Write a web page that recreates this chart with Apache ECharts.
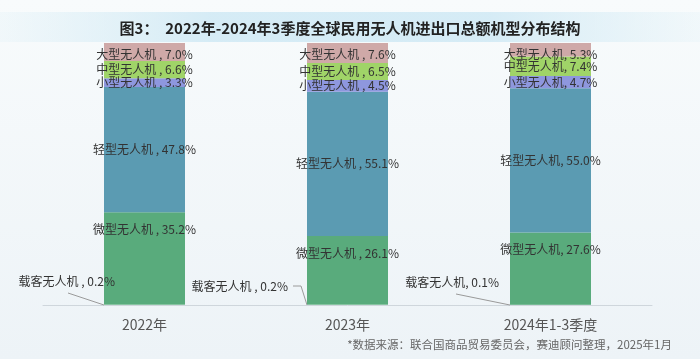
<!DOCTYPE html>
<html>
<head>
<meta charset="utf-8">
<script src="https://cdn.jsdelivr.net/npm/echarts@6/dist/echarts.min.js"></script>
<style>
html,body{margin:0;padding:0;background:#f3f7fa;}
#c{width:700px;height:359px;}
</style>
</head>
<body>
<div id="c"></div>
<script>
const titleText = '图3：  2022年-2024年3季度全球民用无人机进出口总额机型分布结构';
const sourceText = '*数据来源：联合国商品贸易委员会，赛迪顾问整理，2025年1月';
const categories = ['2022年', '2023年', '2024年1-3季度'];
const seriesNames = ['载客无人机', '微型无人机', '轻型无人机', '小型无人机', '中型无人机', '大型无人机'];
const passenger = [0.2, 0.2, 0.1];
const micro = [35.2, 26.1, 27.6];
const light = [47.8, 55.1, 55.0];
const small = [3.3, 4.5, 4.7];
const medium = [6.6, 6.5, 7.4];
const large = [7.0, 7.6, 5.3];
const labelSeparators = [' , ', ' , ', ', '];

const seriesValues = [passenger, micro, light, small, medium, large];
const colors = ['#7fbf95', '#59ab7c', '#5b9bb2', '#8e97de', '#a0d468', '#cfa9a8'];
const FONT = '"Noto Sans CJK SC", "Noto Sans", sans-serif';
const BAR_W = 81;

function fmt(p) {
  return p.seriesName + labelSeparators[p.dataIndex] + p.value.toFixed(1) + '%';
}

// label offsets for the tiny passenger segment (layout only)
const passengerOffsets = [[16, -23], [-14, -18], [-6, -22]];
// leader-line bends relative to the bar's bottom-left corner (layout only)
const leaderBends = [[[-36, -12]], [[-14, -19], [-6, -19]], [[-54, -11]]];

const labelPos = ['left', 'insideTop', 'inside', 'inside', 'inside', 'insideTop'];
const labelDist = [5, 11, 5, 5, 5, 5];

const series = seriesNames.map((name, i) => {
  const s = {
    name: name,
    type: 'bar',
    stack: 'total',
    barWidth: BAR_W,
    data: seriesValues[i],
    itemStyle: { color: colors[i] },
    label: {
      show: true,
      position: labelPos[i],
      distance: labelDist[i],
      formatter: fmt,
      color: '#333',
      fontSize: 12,
      fontFamily: FONT
    },
    emphasis: { disabled: true }
  };
  if (i === 0) {
    s.labelLayout = function (params) {
      const o = passengerOffsets[params.dataIndex];
      return { dx: o[0], dy: o[1] };
    };
  }
  return s;
});

series.push({
  type: 'custom',
  name: 'leader',
  silent: true,
  z: 5,
  data: passenger.map((v, i) => [i, v]),
  renderItem: function (params, api) {
    const idx = api.value(0);
    const base = api.coord([idx, 0]);
    const bx = base[0] - BAR_W / 2;
    const by = base[1];
    const pts = leaderBends[idx].map(p => [bx + p[0], by + p[1]]);
    pts.push([bx, by]);
    return {
      type: 'polyline',
      shape: { points: pts },
      style: { stroke: '#9a9a9a', lineWidth: 1, fill: null }
    };
  }
});

const chart = echarts.init(document.getElementById('c'), null, { renderer: 'canvas' });
chart.setOption({
  animation: false,
  backgroundColor: {
    type: 'linear', x: 0, y: 0, x2: 0, y2: 1,
    colorStops: [{ offset: 0, color: '#f8fbfc' }, { offset: 1, color: '#edf3f7' }]
  },
  graphic: [
    {
      type: 'rect',
      left: 0, top: 12,
      shape: { width: 700, height: 30 },
      style: {
        fill: {
          type: 'linear', x: 0, y: 0, x2: 1, y2: 0,
          colorStops: [
            { offset: 0, color: 'rgba(214,236,245,0.2)' },
            { offset: 0.3, color: 'rgba(210,234,245,0.9)' },
            { offset: 0.7, color: 'rgba(210,234,245,0.9)' },
            { offset: 1, color: 'rgba(214,236,245,0.2)' }
          ]
        }
      },
      z: -1
    },
    {
      type: 'text',
      left: 'center',
      top: 21,
      style: {
        text: titleText,
        fill: '#222',
        font: 'bold 15px ' + FONT
      }
    },
    {
      type: 'text',
      right: 28,
      top: 339,
      style: {
        text: sourceText,
        fill: '#666',
        font: '11.5px ' + FONT
      }
    }
  ],
  grid: { left: 43, right: 48, top: 43, bottom: 54 },
  xAxis: {
    type: 'category',
    data: categories,
    axisLine: { show: true, lineStyle: { color: '#cfd6dc', width: 1 } },
    axisTick: { show: false },
    axisLabel: { color: '#555', fontSize: 14, margin: 13, fontFamily: FONT }
  },
  yAxis: {
    type: 'value',
    min: 0,
    max: 100,
    show: false,
    splitLine: { show: false }
  },
  series: series
});
</script>
</body>
</html>
